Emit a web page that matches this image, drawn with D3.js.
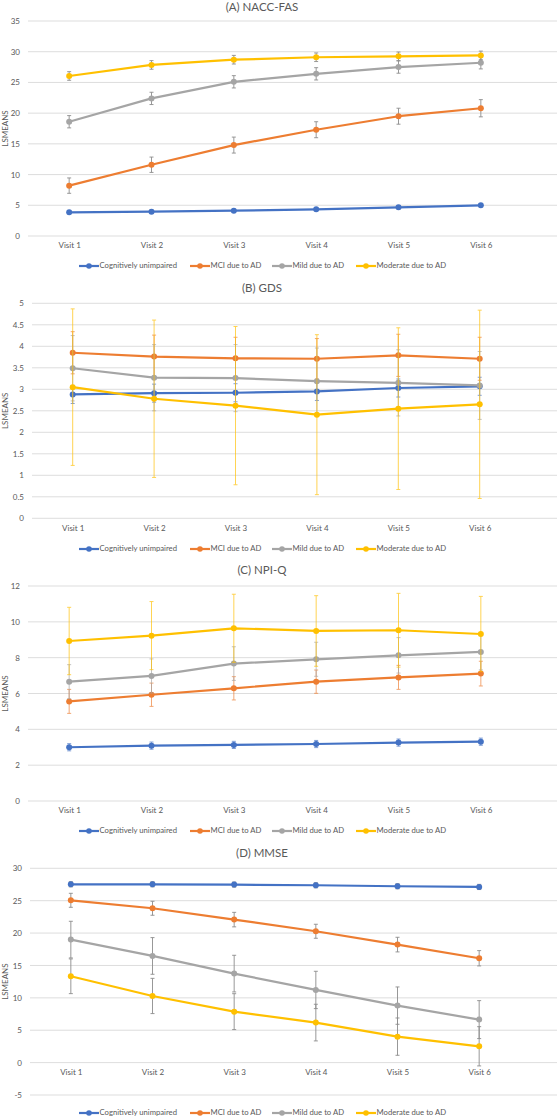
<!DOCTYPE html>
<html><head><meta charset="utf-8">
<script src="https://cdn.jsdelivr.net/npm/d3@7"></script>
<style>
html,body{margin:0;padding:0;background:#fff;}
svg{display:block;font-family:Lato,"Open Sans",sans-serif;}
</style></head>
<body>
<svg id="chart" width="557" height="1119"></svg>
<script>
const visits = ["Visit 1","Visit 2","Visit 3","Visit 4","Visit 5","Visit 6"];
const groups = ["Cognitively unimpaired","MCI due to AD","Mild due to AD","Moderate due to AD"];
const colors = ["#4472C4","#ED7D31","#A5A5A5","#FFC000"];

// (A) NACC-FAS
const fasMeans = [
  [3.86,3.96,4.12,4.34,4.67,5.0],
  [8.2,11.6,14.8,17.3,19.5,20.8],
  [18.6,22.4,25.1,26.4,27.5,28.2],
  [26.05,27.85,28.7,29.1,29.25,29.4]
];
const fasErr = [
  [0.25,0.25,0.25,0.25,0.25,0.25],
  [1.25,1.25,1.3,1.3,1.3,1.4],
  [1.0,1.0,1.0,1.0,1.0,1.0],
  [0.7,0.7,0.7,0.7,0.7,0.7]
];
const fasTicks = [0,5,10,15,20,25,30,35];

// (B) GDS
const gdsMeans = [
  [2.88,2.91,2.92,2.95,3.03,3.07],
  [3.85,3.76,3.72,3.71,3.79,3.71],
  [3.49,3.27,3.26,3.19,3.15,3.09],
  [3.05,2.78,2.62,2.41,2.55,2.65]
];
const gdsErr = [
  [0.21,0.21,0.21,0.21,0.21,0.21],
  [0.49,0.5,0.49,0.47,0.49,0.5],
  [0.76,0.77,0.78,0.77,0.77,0.79],
  [1.82,1.83,1.84,1.86,1.88,2.19]
];
const gdsTicks = [0,0.5,1,1.5,2,2.5,3,3.5,4,4.5,5];

// (C) NPI-Q
const npiMeans = [
  [3.0,3.09,3.13,3.18,3.26,3.31],
  [5.56,5.93,6.29,6.66,6.90,7.11],
  [6.66,6.98,7.67,7.91,8.13,8.32],
  [8.93,9.23,9.64,9.49,9.53,9.32]
];
const npiErr = [
  [0.2,0.2,0.2,0.2,0.2,0.2],
  [0.67,0.65,0.65,0.65,0.67,0.69],
  [0.95,0.95,0.94,0.95,0.99,1.0],
  [1.88,1.9,1.9,1.97,2.06,2.1]
];
const npiTicks = [0,2,4,6,8,10,12];

// (D) MMSE
const mmseMeans = [
  [27.53,27.53,27.48,27.38,27.23,27.12],
  [25.06,23.83,22.08,20.28,18.22,16.11],
  [18.99,16.47,13.74,11.22,8.80,6.64],
  [13.33,10.29,7.87,6.18,4.01,2.52]
];
const mmseErr = [
  [0.4,0.4,0.4,0.4,0.4,0.4],
  [1.08,1.08,1.12,1.08,1.13,1.18],
  [2.83,2.83,2.83,2.88,2.88,2.93],
  [2.68,2.72,2.77,2.83,2.88,3.03]
];
const mmseTicks = [-5,0,5,10,15,20,25,30];

const titles = ["(A) NACC-FAS","(B) GDS","(C) NPI-Q","(D) MMSE"];

const panels = [
  {title:titles[0], means:fasMeans, err:fasErr, ticks:fasTicks, titleY:8.5, top:21, bottom:236, xLabY:247, legY:266, left:28, right:522, tickX:20, errColor:"grey"},
  {title:titles[1], means:gdsMeans, err:gdsErr, ticks:gdsTicks, titleY:289, top:303.3, bottom:518.3, xLabY:530, legY:549, left:32, right:520.4, tickX:24, errColor:"series"},
  {title:titles[2], means:npiMeans, err:npiErr, ticks:npiTicks, titleY:571, top:586, bottom:801, xLabY:812, legY:831, left:28, right:522, tickX:20, errColor:"series"},
  {title:titles[3], means:mmseMeans, err:mmseErr, ticks:mmseTicks, titleY:854, top:868.3, bottom:1095, xLabY:1074, legY:1113, left:30, right:520, tickX:22, errColor:"grey"}
];

const svg = d3.select("#chart");
const textCol = "#595959";
const legX = [79,190,272,356];
const FS = 8;
const LFS = 7.7;

panels.forEach(p => {
  const g = svg.append("g");
  const x = d3.scalePoint().domain(visits).range([p.left, p.right]).padding(0.5);
  const y = d3.scaleLinear().domain(d3.extent(p.ticks)).range([p.bottom, p.top]);

  g.append("text").attr("x", 262).attr("y", p.titleY).attr("text-anchor","middle")
    .attr("dominant-baseline","middle").attr("fill",textCol).attr("font-size",11.5).text(p.title);

  g.selectAll(".grid").data(p.ticks).enter().append("line")
    .attr("x1", p.left).attr("x2", 557)
    .attr("y1", d=>y(d)).attr("y2", d=>y(d))
    .attr("stroke","#D9D9D9").attr("stroke-width",0.9);

  const yAxis = d3.axisLeft(y).tickValues(p.ticks).tickSize(0).tickPadding(0)
    .tickFormat(d=>String(d));
  const ya = g.append("g").attr("transform",`translate(${p.tickX},0)`).call(yAxis);
  ya.select(".domain").remove();
  ya.selectAll("text").attr("fill",textCol).attr("font-size",FS).attr("font-family","Lato,'Open Sans',sans-serif");

  g.append("text").attr("transform",`translate(6,${(p.top+p.bottom)/2}) rotate(-90)`)
    .attr("text-anchor","middle").attr("dominant-baseline","middle")
    .attr("fill",textCol).attr("font-size",FS).text("LSMEANS");

  const xAxis = d3.axisBottom(x).tickSize(0).tickPadding(0);
  const xa = g.append("g").attr("transform",`translate(0,${p.xLabY-4.5})`).call(xAxis);
  xa.select(".domain").remove();
  xa.selectAll("text").attr("fill",textCol).attr("font-size",FS).attr("font-family","Lato,'Open Sans',sans-serif");

  const line = d3.line().x((d,i)=>x(visits[i])).y(d=>y(d));
  p.means.forEach((vals, s) => {
    const col = colors[s];
    const ecol = p.errColor === "grey" ? "#8C8C8C" : col;
    const sg = g.append("g");
    sg.append("path").datum(vals).attr("d", line).attr("fill","none")
      .attr("stroke", col).attr("stroke-width",2.2).attr("stroke-linejoin","round");
    const eb = sg.selectAll(".eb").data(vals).enter().append("g")
      .attr("stroke", ecol).attr("stroke-width",0.9).attr("opacity", p.errColor==="grey"?1:0.75);
    eb.append("line").attr("x1",(d,i)=>x(visits[i])).attr("x2",(d,i)=>x(visits[i]))
      .attr("y1",(d,i)=>y(d+p.err[s][i])).attr("y2",(d,i)=>y(d-p.err[s][i]));
    eb.append("line").attr("x1",(d,i)=>x(visits[i])-2).attr("x2",(d,i)=>x(visits[i])+2)
      .attr("y1",(d,i)=>y(d+p.err[s][i])).attr("y2",(d,i)=>y(d+p.err[s][i]));
    eb.append("line").attr("x1",(d,i)=>x(visits[i])-2).attr("x2",(d,i)=>x(visits[i])+2)
      .attr("y1",(d,i)=>y(d-p.err[s][i])).attr("y2",(d,i)=>y(d-p.err[s][i]));
    sg.selectAll(".pt").data(vals).enter().append("circle")
      .attr("cx",(d,i)=>x(visits[i])).attr("cy",d=>y(d)).attr("r",3).attr("fill",col);
  });

  groups.forEach((name, s) => {
    const lx = legX[s];
    g.append("line").attr("x1",lx).attr("x2",lx+20).attr("y1",p.legY).attr("y2",p.legY)
      .attr("stroke",colors[s]).attr("stroke-width",2.2);
    g.append("circle").attr("cx",lx+10).attr("cy",p.legY).attr("r",2.8).attr("fill",colors[s]);
    g.append("text").attr("x",lx+20.5).attr("y",p.legY).attr("dominant-baseline","middle")
      .attr("fill",textCol).attr("font-size",LFS).text(name);
  });
});
</script>
</body></html>
